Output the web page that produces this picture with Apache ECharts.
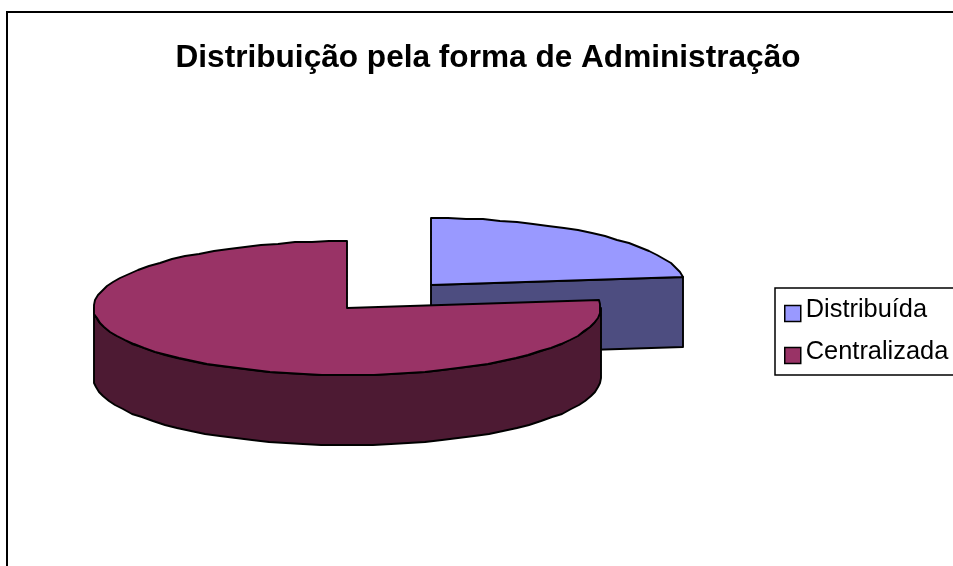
<!DOCTYPE html>
<html>
<head>
<meta charset="utf-8">
<style>html,body{margin:0;padding:0;background:#fff;overflow:hidden}#c{width:953px;height:566px}</style>
<script src="https://cdn.jsdelivr.net/npm/echarts@6/dist/echarts.min.js"></script>
</head>
<body>
<div id="c"></div>
<script>
// Share of each administration form, in percent.
const categories = ['Distribuída', 'Centralizada'];
const shares = [23, 77];
const topColors = ['#9999FF', '#993366'];
const wallColors = ['#4D4D80', '#4D1A33'];
const chartTitle = 'Distribuição pela forma de Administração';

// Pie projection: an ellipse seen from above, with extruded walls.
const pie = { cx: 347, cy: 308, rx: 253.5, ry: 67, depth: 70 };
const pull = [{ x: 84, y: -23 }, { x: 0, y: 0 }];
const outline = { stroke: '#000', lineWidth: 1.9, lineJoin: 'round' };

const total = shares.reduce((a, b) => a + b, 0);
const pt = (a, i, dy) => [
  Math.round(pie.cx + pull[i].x + pie.rx * Math.sin(a)),
  Math.round(pie.cy + pull[i].y + (dy || 0) - pie.ry * Math.cos(a))
];
const arc = (from, to, i, dy) => {
  const pts = [], n = Math.max(1, Math.ceil(Math.abs(to - from) / (Math.PI / 45)));
  for (let k = 0; k <= n; k++) pts.push(pt(from + (to - from) * k / n, i, dy));
  return pts;
};

function renderSlice(params, api) {
  const i = params.seriesIndex;
  const before = shares.slice(0, i).reduce((a, b) => a + b, 0);
  const start = before / total * Math.PI * 2;
  const end = (before + api.value(0)) / total * Math.PI * 2;
  const apex = [pie.cx + pull[i].x, pie.cy + pull[i].y];
  const children = [];
  const poly = (points, fill) => children.push({
    type: 'polygon', shape: { points }, style: Object.assign({ fill }, outline)
  });
  // Cut face turned to the viewer, only when the slice ends on the right-hand back quarter.
  if (end < Math.PI / 2) {
    const e = pt(end, i), eb = pt(end, i, pie.depth);
    poly([apex, e, eb, [apex[0], apex[1] + pie.depth]], wallColors[i]);
  }
  // Outer rim on the front half of the ellipse.
  const a0 = Math.max(start, Math.PI / 2), a1 = Math.min(end, Math.PI * 1.5);
  if (a1 > a0) {
    poly(arc(a0, a1, i).concat(arc(a1, a0, i, pie.depth)), wallColors[i]);
  }
  // Top face.
  poly([apex].concat(arc(start, end, i)), topColors[i]);
  return { type: 'group', children };
}

const chart = echarts.init(document.getElementById('c'), null, { renderer: 'canvas' });
chart.setOption({
  animation: false,
  backgroundColor: '#fff',
  title: {
    text: chartTitle,
    left: 483, top: 37, textAlign: 'center',
    textStyle: { fontFamily: 'Liberation Sans', fontWeight: 'bold', fontSize: 31.6, color: '#000' }
  },
  legend: {
    data: categories,
    orient: 'vertical',
    left: 775, top: 288,
    padding: [9.5, 12, 10.5, 9],
    itemGap: 17,
    itemWidth: 16, itemHeight: 16,
    icon: 'rect',
    selectedMode: false,
    backgroundColor: '#fff',
    borderColor: '#000', borderWidth: 1.5, borderRadius: 0,
    itemStyle: { borderColor: '#000', borderWidth: 1.5 },
    formatter: '{a|{name}}',
    textStyle: {
      fontFamily: 'Liberation Sans', fontSize: 25.4, color: '#000',
      rich: { a: { fontFamily: 'Liberation Sans', fontSize: 25.4, color: '#000', padding: [0, 0, 7, 0] } }
    }
  },
  graphic: [{
    type: 'rect', silent: true, z: -1,
    shape: { x: 7, y: 12, width: 2000, height: 2000 },
    style: { fill: 'none', stroke: '#000', lineWidth: 2 }
  }],
  series: categories.map((name, i) => ({
    type: 'custom',
    name,
    coordinateSystem: 'none',
    itemStyle: { color: topColors[i] },
    data: [[shares[i]]],
    renderItem: renderSlice
  }))
});
</script>
</body>
</html>
